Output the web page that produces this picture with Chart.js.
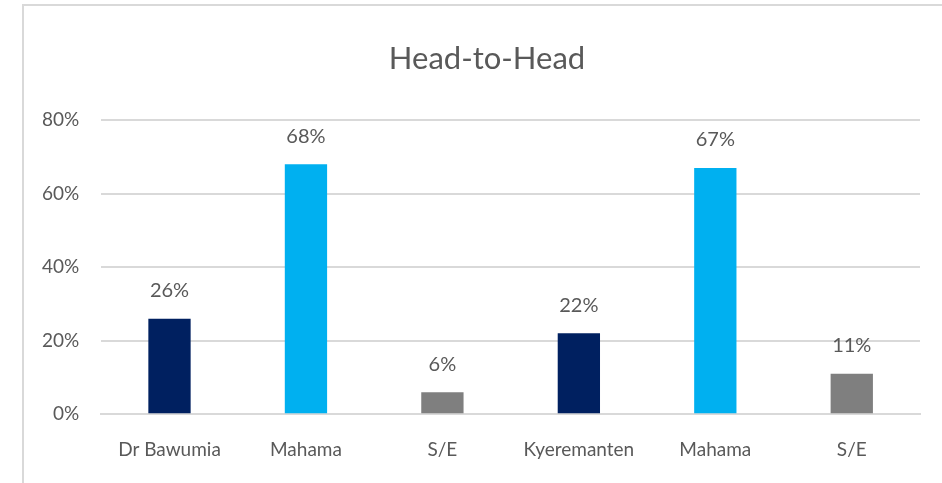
<!DOCTYPE html>
<html>
<head>
<meta charset="utf-8">
<script src="https://cdn.jsdelivr.net/npm/chart.js@4"></script>
<style>
  html, body { margin: 0; padding: 0; background: #fff; }
  #frame {
    position: absolute; left: 22px; top: 4px; width: 920px; height: 479px;
    border-top: 2px solid #d9d9d9; border-left: 2px solid #d9d9d9;
  }
  #wrap { position: absolute; left: 0; top: 0; width: 942px; height: 483px; }
</style>
</head>
<body>
<div id="frame"></div>
<div id="wrap"><canvas id="chart" width="942" height="483"></canvas></div>
<script>
// chart data
const categories = ["Dr Bawumia", "Mahama", "S/E", "Kyeremanten", "Mahama", "S/E"];
const shares = [26, 68, 6, 22, 67, 11];
const barColors = ["#002060", "#00B0F0", "#7F7F7F", "#002060", "#00B0F0", "#7F7F7F"];
const yTicks = [0, 20, 40, 60, 80];

const textColor = "#595959";
const fontFamily = "Lato, 'Open Sans', sans-serif";

// draws the percent value above every bar
const valueLabels = {
  id: "valueLabels",
  afterDatasetsDraw(chart) {
    const ctx = chart.ctx;
    const meta = chart.getDatasetMeta(0);
    ctx.save();
    ctx.fillStyle = textColor;
    ctx.font = "20px " + fontFamily;
    ctx.textAlign = "center";
    ctx.textBaseline = "middle";
    meta.data.forEach((bar, i) => {
      ctx.fillText(shares[i] + "%", bar.x, bar.y - 28);
    });
    ctx.restore();
  }
};

// centre the title on the framed area instead of the whole canvas
const shiftTitle = {
  id: "shiftTitle",
  afterLayout(chart) {
    if (chart.titleBlock) {
      chart.titleBlock.left += 34;
    }
  }
};

new Chart(document.getElementById("chart"), {
  type: "bar",
  data: {
    labels: categories,
    datasets: [{
      data: shares,
      backgroundColor: barColors,
      barPercentage: 0.31,
      categoryPercentage: 1,
    }],
  },
  options: {
    responsive: false,
    animation: false,
    layout: { padding: { left: 20, right: 22, top: 0, bottom: 6 } },
    scales: {
      x: {
        grid: { display: false },
        border: { color: "#d9d9d9", width: 2 },
        ticks: { color: textColor, font: { family: fontFamily, size: 19 }, padding: 16 },
      },
      y: {
        min: 0,
        max: 80,
        afterBuildTicks: (scale) => { scale.ticks = yTicks.map(v => ({ value: v })); },
        grid: { color: "#d9d9d9", lineWidth: 2, drawTicks: false },
        border: { display: false },
        ticks: {
          color: textColor,
          font: { family: fontFamily, size: 19 },
          padding: 22,
          callback: (v) => v + "%",
        },
      },
    },
    plugins: {
      legend: { display: false },
      tooltip: { enabled: false },
      title: {
        display: true,
        text: "Head-to-Head",
        color: textColor,
        font: { family: fontFamily, size: 31, weight: "normal" },
        padding: { top: 40, bottom: 43 },
      },
    },
  },
  plugins: [valueLabels, shiftTitle],
});
</script>
</body>
</html>
